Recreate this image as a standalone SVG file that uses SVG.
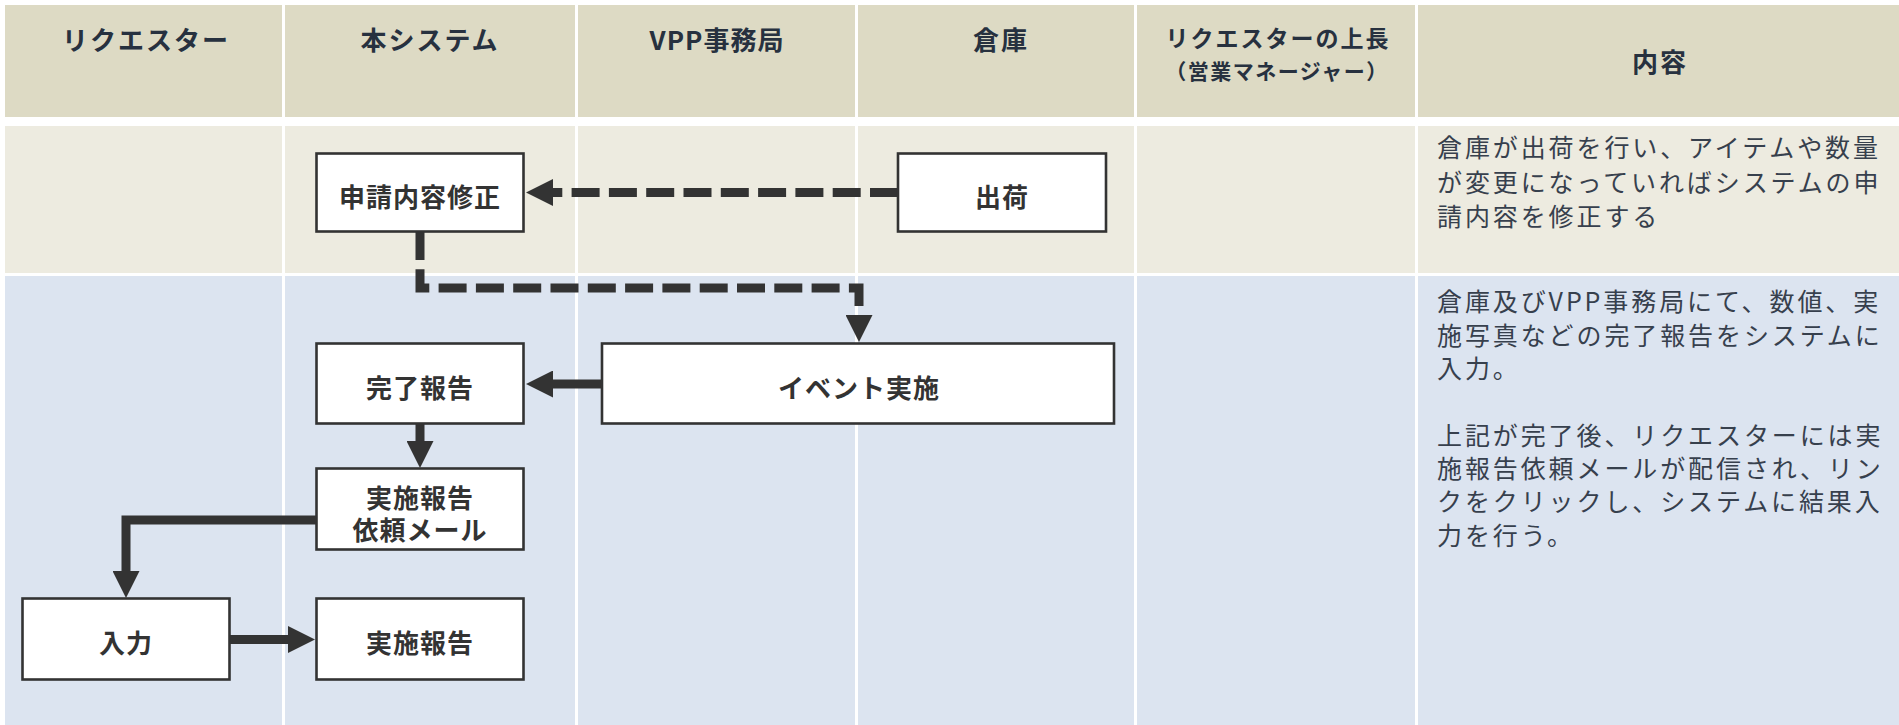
<svg xmlns="http://www.w3.org/2000/svg" width="1899" height="725" viewBox="0 0 1899 725">
<style>
.hd{fill:#dddac4}
.r1{fill:#edebe0}
.r2{fill:#dce4f0}
.ht{font-family:"Noto Sans CJK JP","Noto Sans",sans-serif;font-weight:700;fill:#27313f;text-anchor:middle}
.box{fill:#ffffff;stroke:#333333;stroke-width:2.6}
.nt{font-family:"Noto Sans CJK JP","Noto Sans",sans-serif;font-weight:700;font-size:26px;letter-spacing:1px;fill:#333333;text-anchor:middle}
.ct{font-family:"Noto Sans CJK JP","Noto Sans",sans-serif;font-weight:400;font-size:25px;letter-spacing:2.9px;fill:#37404d}
.ln{fill:none;stroke:#333333;stroke-width:9}
.dash{stroke-dasharray:28 9.3}
</style>
<defs>
<marker id="ah" viewBox="0 0 27 27" refX="2" refY="13.5" markerWidth="27" markerHeight="27" markerUnits="userSpaceOnUse" orient="auto">
<path d="M0,0 L27,13.5 L0,27 z" fill="#333333"/>
</marker>
</defs>
<rect x="0" y="0" width="1899" height="725" fill="#ffffff"/>
<g id="lanes">
<rect class="hd" x="5" y="5" width="277" height="112"/>
<rect class="hd" x="285" y="5" width="290" height="112"/>
<rect class="hd" x="578" y="5" width="277" height="112"/>
<rect class="hd" x="858" y="5" width="276" height="112"/>
<rect class="hd" x="1137" y="5" width="278" height="112"/>
<rect class="hd" x="1418" y="5" width="481" height="112"/>
<rect class="r1" x="5" y="126" width="277" height="147"/>
<rect class="r1" x="285" y="126" width="290" height="147"/>
<rect class="r1" x="578" y="126" width="277" height="147"/>
<rect class="r1" x="858" y="126" width="276" height="147"/>
<rect class="r1" x="1137" y="126" width="278" height="147"/>
<rect class="r1" x="1418" y="126" width="481" height="147"/>
<rect class="r2" x="5" y="276" width="277" height="449"/>
<rect class="r2" x="285" y="276" width="290" height="449"/>
<rect class="r2" x="578" y="276" width="277" height="449"/>
<rect class="r2" x="858" y="276" width="276" height="449"/>
<rect class="r2" x="1137" y="276" width="278" height="449"/>
<rect class="r2" x="1418" y="276" width="481" height="449"/>
</g>
<g id="headers">
<text class="ht" x="146" y="50" font-size="26" letter-spacing="2">リクエスター</text>
<text class="ht" x="430" y="50" font-size="26" letter-spacing="2">本システム</text>
<text class="ht" x="717" y="50" font-size="26" letter-spacing="1">VPP事務局</text>
<text class="ht" x="1001" y="50" font-size="26" letter-spacing="2">倉庫</text>
<text class="ht" x="1278" y="47" font-size="23" letter-spacing="2">リクエスターの上長</text>
<text class="ht" x="1277" y="79" font-size="21" letter-spacing="1.5">（営業マネージャー）</text>
<text class="ht" x="1660" y="72" font-size="26" letter-spacing="2">内容</text>
</g>
<g id="content">
<text class="ct" x="1437" y="157.2">倉庫が出荷を行い、アイテムや数量</text>
<text class="ct" x="1437" y="191.5">が変更になっていればシステムの申</text>
<text class="ct" x="1437" y="225.5">請内容を修正する</text>
<text class="ct" x="1437" y="311.2">倉庫及びVPP事務局にて、数値、実</text>
<text class="ct" x="1437" y="344.5">施写真などの完了報告をシステムに</text>
<text class="ct" x="1437" y="377.8">入力。</text>
<text class="ct" x="1437" y="444.5">上記が完了後、リクエスターには実</text>
<text class="ct" x="1437" y="477.8">施報告依頼メールが配信され、リン</text>
<text class="ct" x="1437" y="511.1">クをクリックし、システムに結果入</text>
<text class="ct" x="1437" y="544.5">力を行う。</text>
</g>
<g id="connectors">
<path class="ln dash" d="M898,192.5 H551" marker-end="url(#ah)"/>
<path class="ln dash" d="M420,232 V288 H859 V317" marker-end="url(#ah)"/>
<path class="ln" d="M602,384 H551" marker-end="url(#ah)"/>
<path class="ln" d="M420,424 V443" marker-end="url(#ah)"/>
<path class="ln" d="M316,520 H126 V573" marker-end="url(#ah)"/>
<path class="ln" d="M230,639.5 H290" marker-end="url(#ah)"/>
</g>
<g id="node-shinsei">
<rect class="box" x="316.5" y="153.5" width="207" height="78"/>
<text class="nt" x="420" y="206.5">申請内容修正</text>
</g>
<g id="node-shukka">
<rect class="box" x="898" y="153.5" width="208" height="78"/>
<text class="nt" x="1002" y="206.5">出荷</text>
</g>
<g id="node-event">
<rect class="box" x="602" y="343.5" width="512" height="80"/>
<text class="nt" x="859" y="398">イベント実施</text>
</g>
<g id="node-kanryo">
<rect class="box" x="316.5" y="343.5" width="207" height="80"/>
<text class="nt" x="420" y="398">完了報告</text>
</g>
<g id="node-mail">
<rect class="box" x="316.5" y="468.5" width="207" height="81"/>
<text class="nt" x="420" y="508"><tspan x="420" y="508">実施報告</tspan><tspan x="420" y="540">依頼メール</tspan></text>
</g>
<g id="node-nyuryoku">
<rect class="box" x="22.5" y="598.5" width="207" height="81"/>
<text class="nt" x="126" y="653">入力</text>
</g>
<g id="node-jisshi">
<rect class="box" x="316.5" y="598.5" width="207" height="81"/>
<text class="nt" x="420" y="653">実施報告</text>
</g>
</svg>
